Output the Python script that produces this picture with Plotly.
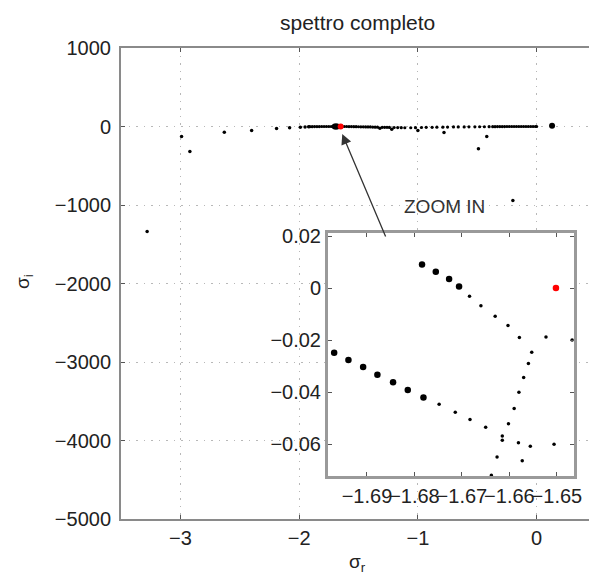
import plotly.graph_objects as go

# ---- main spectrum: isolated eigenvalues (sigma_r, sigma_i) ----
outlier_x = [-3.28, -2.99, -2.92, -2.63, -2.40, -2.19, -2.08, -1.99, -1.95, -1.92,
             -1.32, -1.22, -1.00, -0.78, -0.42, -0.49, -0.20]
outlier_y = [-1338, -127, -318, -72, -51, -25, -17, -8, -5, -3,
             -21, -34, -51, -76, -127, -285, -943]

# the big dot just right of zero
big_x = [0.13]
big_y = [9]

# cluster around the zoomed region
cluster_x = [-1.70, -1.69, -1.68]
cluster_y = [0, 0, 0]

# dense branch along sigma_i ~ 0
line_x = [-1.91, -1.89, -1.87, -1.85, -1.83, -1.81, -1.79, -1.77, -1.75, -1.73,
          -1.71, -1.69, -1.68, -1.67, -1.66, -1.64, -1.62, -1.60, -1.58, -1.56,
          -1.54, -1.52, -1.50, -1.48, -1.46, -1.44, -1.42, -1.40, -1.38, -1.36,
          -1.34, -1.30, -1.28, -1.26, -1.24, -1.20, -1.17, -1.14, -1.11,
          -1.06, -1.02, -0.97, -0.93, -0.88, -0.84, -0.79, -0.75, -0.70, -0.66,
          -0.61, -0.57, -0.52, -0.48, -0.44, -0.40, -0.37, -0.35, -0.33, -0.31,
          -0.29, -0.27, -0.25, -0.23, -0.21, -0.19, -0.17, -0.15, -0.13, -0.11,
          -0.09, -0.07, -0.05, -0.03, -0.01, 0.0]
line_y = [-2, -2, -1, -1, -1, 0, 0, 0, 0, 0,
          0, 0, 0, 0, 0, 0, 0, 0, -1, -1,
          -2, -2, -3, -4, -4, -5, -6, -6, -7, -8,
          -9, -10, -10, -11, -12, -13, -14, -15, -16,
          -16, -15, -13, -11, -10, -9, -8, -7, -6, -5,
          -5, -4, -4, -3, -3, -2, -2, -2, -1, -1,
          -1, -1, 0, 0, 0, 0, 0, 0, 0, 0,
          0, 0, 0, 0, 0, 0]

red_x = [-1.6502]
red_y = [0.0]

# ---- zoomed region ----
upper_big_x = [-1.6784, -1.6755, -1.6727, -1.6706]
upper_big_y = [0.0091, 0.0063, 0.0035, 0.0006]
lower_big_x = [-1.6969, -1.6939, -1.6908, -1.6878, -1.6845, -1.6814, -1.6781]
lower_big_y = [-0.0249, -0.0277, -0.0304, -0.0333, -0.0362, -0.0392, -0.0421]
small_x = [-1.6684, -1.6660, -1.6630, -1.6603, -1.6579, -1.6553, -1.6560, -1.6570,
           -1.6580, -1.6590, -1.6602, -1.6615, -1.6615, -1.6626, -1.6638, -1.6581,
           -1.6556, -1.6573, -1.6506, -1.6523, -1.6468, -1.6748, -1.6714, -1.6683,
           -1.6650]
small_y = [-0.0031, -0.0068, -0.0108, -0.0144, -0.0190, -0.0247, -0.0290, -0.0344,
           -0.0401, -0.0463, -0.0522, -0.0569, -0.0585, -0.0650, -0.0720, -0.0595,
           -0.0609, -0.0664, -0.0601, -0.0188, -0.0200, -0.0447, -0.0478, -0.0506,
           -0.0535]

main_xticks = [-3, -2, -1, 0]
main_xlabels = ["−3", "−2", "−1", "0"]
main_yticks = [1000, 0, -1000, -2000, -3000, -4000, -5000]
main_ylabels = ["1000", "0", "−1000", "−2000", "−3000", "−4000", "−5000"]
zoom_xticks = [-1.69, -1.68, -1.67, -1.66, -1.65]
zoom_xlabels = ["−1.69", "−1.68", "−1.67", "−1.66", "−1.65"]
zoom_yticks = [0.02, 0, -0.02, -0.04, -0.06]
zoom_ylabels = ["0.02", "0", "−0.02", "−0.04", "−0.06"]

# the page body has an 8px margin, so the figure is drawn 8px in from the corner
OFF = 8
W, H = 597 - OFF, 577 - OFF
FONT = "Liberation Sans"
AX = "#8a8a8a"
GRID_DASH = "1.5px,6px"


def px(x):
    return (x - OFF) / W


def py(y):
    return 1 - (y - OFF) / H


fig = go.Figure()

# main plot
fig.add_trace(go.Scatter(x=line_x, y=line_y, mode="markers",
                         marker=dict(color="black", size=3.2), xaxis="x", yaxis="y"))
fig.add_trace(go.Scatter(x=outlier_x, y=outlier_y, mode="markers",
                         marker=dict(color="black", size=3.5), xaxis="x", yaxis="y"))
fig.add_trace(go.Scatter(x=cluster_x, y=cluster_y, mode="markers",
                         marker=dict(color="black", size=6), xaxis="x", yaxis="y"))
fig.add_trace(go.Scatter(x=big_x, y=big_y, mode="markers",
                         marker=dict(color="black", size=6), xaxis="x", yaxis="y"))
fig.add_trace(go.Scatter(x=red_x, y=red_y, mode="markers",
                         marker=dict(color="red", size=6), xaxis="x", yaxis="y"))

# inset
fig.add_trace(go.Scatter(x=small_x, y=small_y, mode="markers",
                         marker=dict(color="black", size=3.5), xaxis="x2", yaxis="y2"))
fig.add_trace(go.Scatter(x=upper_big_x + lower_big_x, y=upper_big_y + lower_big_y,
                         mode="markers", marker=dict(color="black", size=6.5),
                         xaxis="x2", yaxis="y2"))
fig.add_trace(go.Scatter(x=red_x, y=red_y, mode="markers",
                         marker=dict(color="red", size=6.5), xaxis="x2", yaxis="y2"))

axis_common = dict(
    showline=True, linecolor=AX, linewidth=2, mirror="allticks",
    ticks="inside", ticklen=4, tickcolor="#555", tickwidth=1,
    zeroline=False, tickangle=0, automargin=False, tickmode="array",
    tickfont=dict(family=FONT, size=20, color="#222"),
)

fig.update_layout(
    width=W, height=H,
    margin=dict(l=0, r=0, t=0, b=0, autoexpand=False),
    paper_bgcolor="white", plot_bgcolor="white",
    showlegend=False,
    xaxis=dict(axis_common, domain=[px(121), min(px(596), 1)], range=[-3.5, 0.5],
               tickvals=main_xticks, ticktext=main_xlabels,
               showgrid=True, gridcolor="#b8b8b8",
               griddash=GRID_DASH, gridwidth=1, anchor="y"),
    yaxis=dict(axis_common, domain=[py(519), py(48)], range=[-5000, 1000],
               tickvals=main_yticks, ticktext=main_ylabels,
               showgrid=True, gridcolor="#b8b8b8",
               griddash=GRID_DASH, gridwidth=1, anchor="x", ticklabelstandoff=4),
    xaxis2=dict(axis_common, domain=[px(328), px(574)], range=[-1.6982, -1.6464],
                tickvals=zoom_xticks, ticktext=zoom_xlabels,
                showgrid=False, anchor="y2",
                linewidth=3, linecolor="#9a9a9a"),
    yaxis2=dict(axis_common, domain=[py(476), py(233)],
                range=[-0.0723, 0.0212], tickvals=zoom_yticks, ticktext=zoom_ylabels,
                showgrid=False, anchor="x2",
                linewidth=3, linecolor="#9a9a9a"),
    annotations=[
        dict(text="spettro completo", x=px(357), y=py(22), xref="paper", yref="paper",
             xanchor="center", yanchor="middle",
             showarrow=False, font=dict(family=FONT, size=21, color="#222")),
        dict(text="σ<sub>r</sub>", x=px(358), y=py(563), xref="paper", yref="paper",
             xanchor="center", yanchor="middle",
             showarrow=False, font=dict(family=FONT, size=19, color="#222")),
        dict(text="σ<sub>i</sub>", x=px(24), y=py(282), xref="paper", yref="paper",
             xanchor="center", yanchor="middle",
             textangle=-90, showarrow=False, font=dict(family=FONT, size=19, color="#222")),
        dict(text="ZOOM IN", x=-0.775, y=-1025, xref="x", yref="y",
             xanchor="center", yanchor="middle",
             showarrow=False, font=dict(family=FONT, size=19, color="#333")),
        dict(text="", x=-1.637, y=-95, xref="x", yref="y",
             ax=44, ay=104, showarrow=True, arrowhead=2, arrowsize=1.6,
             arrowwidth=1.3, arrowcolor="#333"),
    ],
)

fig.write_html("out.html")
